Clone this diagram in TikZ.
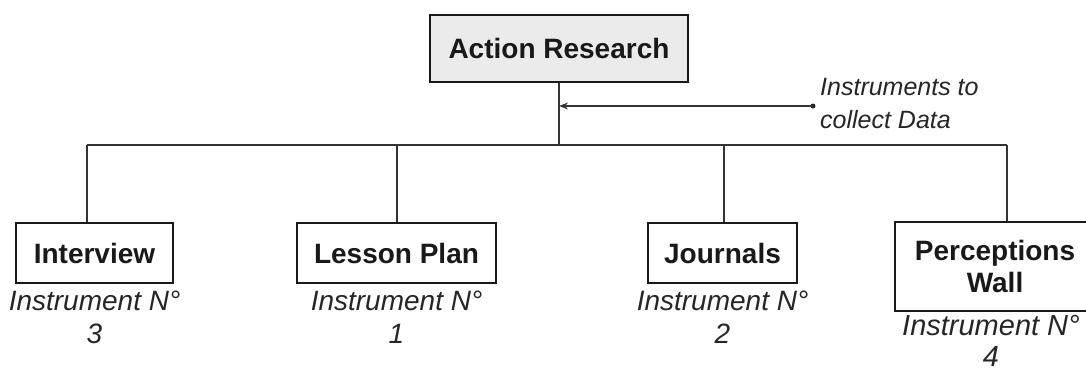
\documentclass[tikz,border=0pt]{standalone}
\usepackage{fontspec}
\setmainfont{Liberation Sans}
\usetikzlibrary{arrows.meta}
\begin{document}
\begin{tikzpicture}[x=1pt,y=-1pt,
  box/.style={draw=black!90, line width=2.2pt, inner sep=0pt, align=center,
    font=\bfseries\fontsize{28}{32}\selectfont, text=black!90},
  note/.style={font=\itshape\fontsize{28}{33}\selectfont, align=center,
    inner sep=0pt, anchor=north, text=black!85},
  link/.style={draw=black!80, line width=1.3pt}]
\clip (0,0) rectangle (1086,373);
\fill[white] (0,0) rectangle (1086,373);

% root
\node[box, fill=black!8, minimum width=258pt, minimum height=67pt] (ar) at (559,48.5) {Action Research};

% instruments
\node[box, minimum width=157pt, minimum height=60pt] (int) at (94.5,253) {Interview};
\node[box, minimum width=199pt, minimum height=60pt] (lp) at (396.5,253) {Lesson Plan};
\node[box, minimum width=149pt, minimum height=60pt] (jr) at (722.5,253) {Journals};
\node[box, minimum width=200pt, minimum height=89pt] (pw) at (995,266.5) {Perceptions\\Wall};

% captions under the boxes
\node[note] (c1) at ([yshift=-7pt]int.south) {Instrument N°\\3};
\node[note] (c2) at ([yshift=-7pt]lp.south) {Instrument N°\\1};
\node[note] (c3) at ([yshift=-7pt]jr.south) {Instrument N°\\2};
\node[note, font=\itshape\fontsize{29}{31}\selectfont] (c4) at ([xshift=-4pt,yshift=-3pt]pw.south) {Instrument N°\\4};

% bus and drops
\coordinate (t) at (ar.south |- 0,145);
\coordinate (b1) at (87,145);
\coordinate (b2) at (397,145);
\coordinate (b3) at (724,145);
\coordinate (b4) at (1007,145);
\draw[link] (ar.south) -- (t);
\draw[link] (b1) -- (b4);
\draw[link] (b1) -- (b1 |- int.north);
\draw[link] (b2) -- (b2 |- lp.north);
\draw[link] (b3) -- (b3 |- jr.north);
\draw[link] (b4) -- (b4 |- pw.north);

% annotation pointing at the trunk
\node[font=\itshape\fontsize{25}{33}\selectfont, align=left, inner sep=0pt,
  anchor=north west, text=black!85] (ann) at (820,78) {Instruments to\\collect Data};
\coordinate (dot) at (813,106);
\fill[black!85] (dot) circle (2.5pt);
\draw[link, -{Stealth[length=9pt,width=7pt]}] (dot) -- (ar.south |- dot);
\end{tikzpicture}
\end{document}
